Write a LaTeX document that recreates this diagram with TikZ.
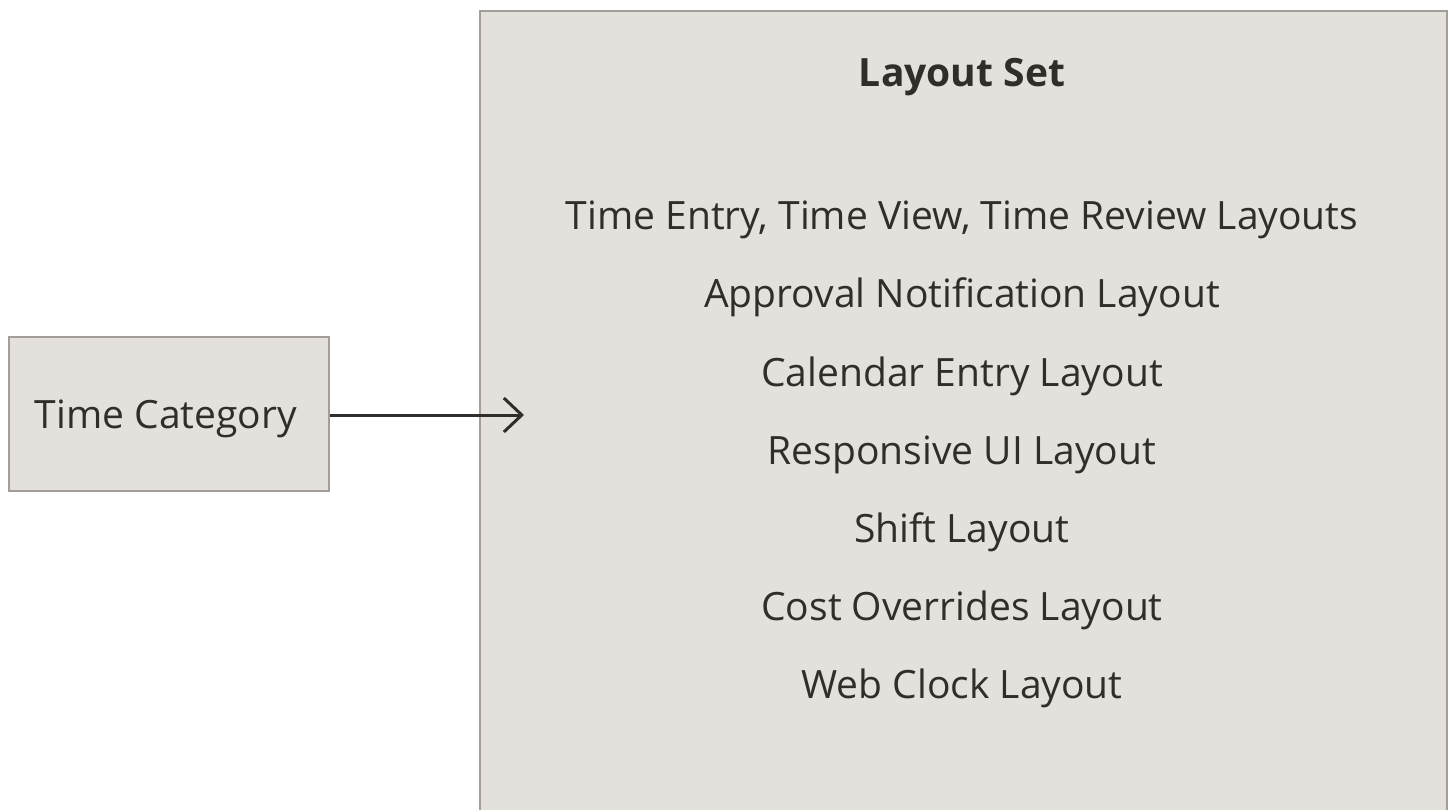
\documentclass[tikz,border=0pt]{standalone}
\usepackage{fontspec}
\setmainfont{Open Sans}
\usetikzlibrary{arrows.meta}
\definecolor{boxfill}{HTML}{E4E1DD}
\definecolor{boxline}{HTML}{A39E99}
\definecolor{ink}{HTML}{312D2A}
\tikzset{
  box/.style={draw=boxline, fill=boxfill, line width=2pt, inner sep=0pt},
  item/.style={text=ink, font=\fontsize{39}{44}\selectfont, anchor=base, inner sep=0pt},
  conn/.style={draw=ink, line width=3pt, -{Straight Barb[length=18pt,width=34pt,line width=3pt]}}
}
\begin{document}
\begin{tikzpicture}[x=1pt,y=-1pt]
\useasboundingbox (0,0) rectangle (1448,810);
\clip (0,0) rectangle (1448,810);
\node[box, minimum width=967pt, minimum height=830pt, anchor=north west] (set) at (478.5,10.5) {};
\node[box, minimum width=320pt, minimum height=154pt, anchor=north west] (tc) at (8,336) {};
\node[item] (tct) at (166,428) {Time Category};
\node[item, font=\fontsize{39}{44}\selectfont\bfseries] (title) at (962,87) {Layout Set};
\node[item] (l1) at (962,230) {Time Entry, Time View, Time Review Layouts};
\node[item] (l2) at (962,308) {Approval Notification Layout};
\node[item] (l3) at (962,386) {Calendar Entry Layout};
\node[item] (l4) at (962,464) {Responsive UI Layout};
\node[item] (l5) at (962,542) {Shift Layout};
\node[item] (l6) at (962,620) {Cost Overrides Layout};
\node[item] (l7) at (962,698) {Web Clock Layout};
\coordinate (tip) at (524,415);
\draw[conn] (tc.east |- tip) -- (tip);
\end{tikzpicture}
\end{document}
